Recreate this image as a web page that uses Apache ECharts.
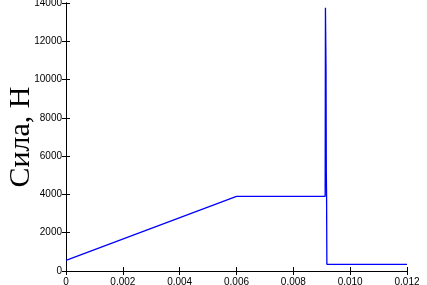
<!DOCTYPE html>
<html><head><meta charset="utf-8">
<script src="https://cdn.jsdelivr.net/npm/echarts@6/dist/echarts.min.js"></script>
<style>html,body{margin:0;padding:0;background:#fff}#c{width:427px;height:285px}</style>
</head><body><div id="c"></div>
<script>
var timeValues = [0, 0.006, 0.00912, 0.00913, 0.00915, 0.00916, 0.00917, 0.00918, 0.012];
var forceValues = [550, 3900, 3900, 13750, 10600, 5200, 3900, 350, 350];
var xTicks = [0, 0.002, 0.004, 0.006, 0.008, 0.010, 0.012];
var yTicks = [0, 2000, 4000, 6000, 8000, 10000, 12000, 14000];
var yName = 'Сила, Н';

var data = timeValues.map(function (t, i) { return [t, forceValues[i]]; });
var chart = echarts.init(document.getElementById('c'));
var lbl = {fontFamily: 'Liberation Sans', fontSize: 10, color: '#000'};
chart.setOption({
  animation: false,
  grid: {left: 66, right: 20, top: 3, bottom: 14, containLabel: false, outerBoundsMode: 'none'},
  xAxis: [{
    type: 'value', min: 0, max: 0.012, interval: 0.002,
    axisLine: {lineStyle: {color: '#000', width: 1}},
    axisTick: {inside: true, length: 4, lineStyle: {color: '#000'}},
    axisLabel: Object.assign({margin: 6, formatter: function (v) { return v === 0 ? '0' : v.toFixed(3); }}, lbl),
    splitLine: {show: false}
  }, {
    type: 'value', position: 'top', min: 0, max: 0.012, interval: 0.002,
    axisLine: {lineStyle: {color: '#000', width: 1}},
    axisTick: {inside: true, length: 4, lineStyle: {color: '#000'}},
    axisLabel: {show: false}, splitLine: {show: false}
  }],
  yAxis: [{
    type: 'value', min: 0, max: 14000, interval: 2000,
    name: yName, nameLocation: 'middle', nameGap: 30, nameMoveOverlap: false,
    nameTextStyle: {fontFamily: 'Liberation Serif', fontSize: 30, color: '#000'},
    axisLine: {show: true, lineStyle: {color: '#000', width: 1}},
    axisTick: {show: true, inside: true, length: 4, lineStyle: {color: '#000'}},
    axisLabel: Object.assign({margin: 4, formatter: function (v) { return String(v); }}, lbl),
    splitLine: {show: false}
  }, {
    type: 'value', position: 'right', min: 0, max: 14000, interval: 2000,
    axisLine: {show: true, lineStyle: {color: '#000', width: 1}},
    axisTick: {show: true, inside: true, length: 4, lineStyle: {color: '#000'}},
    axisLabel: {show: false}, splitLine: {show: false}
  }],
  series: [{
    type: 'line', data: data, showSymbol: false, symbol: 'none',
    lineStyle: {color: '#0000ff', width: 1.3}
  }]
});
</script></body></html>
